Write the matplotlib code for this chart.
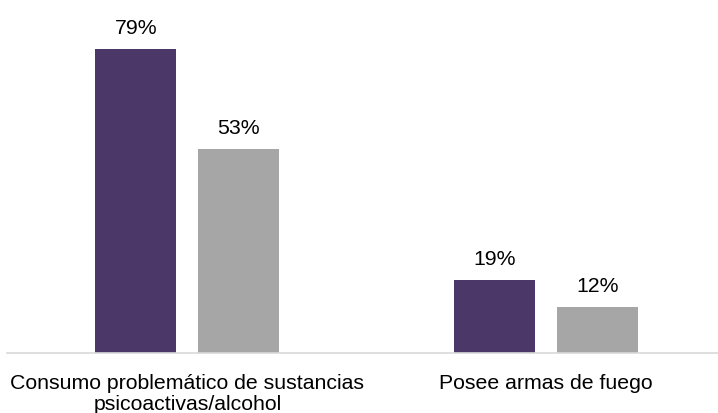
import matplotlib.pyplot as plt
import numpy as np

plt.rcParams['font.family'] = ['Liberation Sans', 'DejaVu Sans']

categories = ['Consumo problemático de sustancias\npsicoactivas/alcohol', 'Posee armas de fuego']
serie_a = [79, 19]
serie_b = [53, 12]

color_a = '#4B3869'
color_b = '#A6A6A6'

fig = plt.figure(figsize=(7.18, 4.14), dpi=100)
ax = fig.add_axes([0.0098, 0.145, 0.9902, 0.837])

x = np.arange(len(categories))
w = 0.226
off = 0.1437
bars_a = ax.bar(x - off, serie_a, width=w, color=color_a)
bars_b = ax.bar(x + off, serie_b, width=w, color=color_b)

for bars, vals in ((bars_a, serie_a), (bars_b, serie_b)):
    for b, v in zip(bars, vals):
        ax.annotate(f'{v}%', (b.get_x() + b.get_width() / 2, v),
                    xytext=(0, 11.5), textcoords='offset points',
                    ha='center', va='baseline', fontsize=15.3, color='#000000')

ax.set_xlim(-0.503, 1.48)
ax.set_ylim(0, 90)
ax.set_xticks(x)
ax.set_xticklabels(categories, fontsize=15.3, linespacing=1.12)
ax.tick_params(axis='x', length=0, pad=14.5)
ax.set_yticks([])
for s in ['top', 'right', 'left']:
    ax.spines[s].set_visible(False)
ax.spines['bottom'].set_color('#D9D9D9')
ax.spines['bottom'].set_linewidth(1.2)

fig.savefig('out.png', dpi=100)
